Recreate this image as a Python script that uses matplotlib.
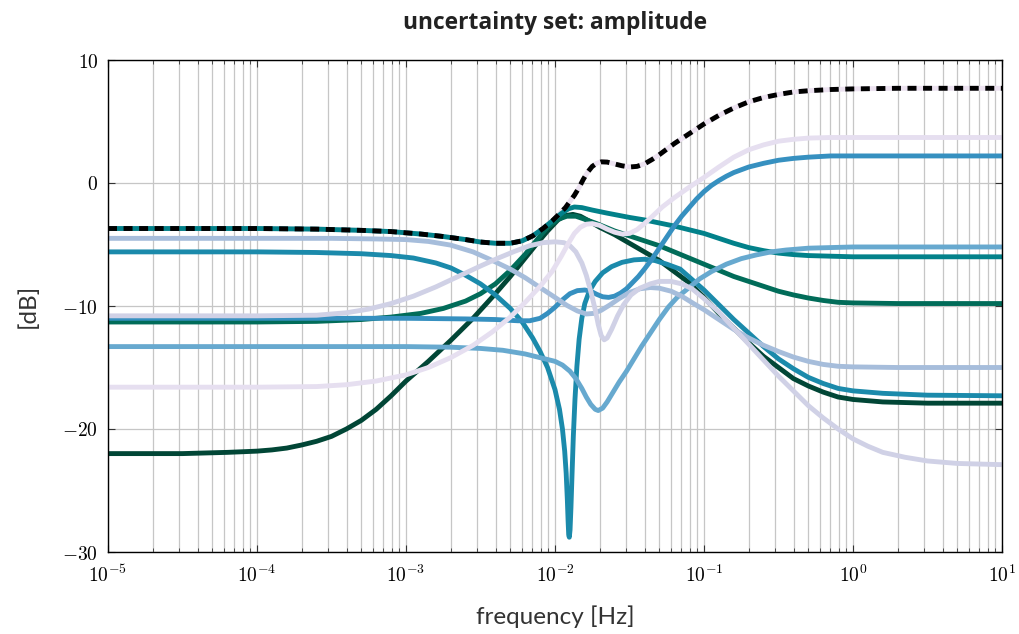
import matplotlib
matplotlib.use("Agg")
import matplotlib.pyplot as plt
from matplotlib.ticker import FixedLocator, NullFormatter, FuncFormatter
import numpy as np

plt.rcParams["mathtext.fontset"] = "cm"

# ---- data: log10(frequency [Hz]) and amplitude [dB] for each member of the set ----
lf_dark = [-5, -4.5, -4.2, -4.0, -3.9, -3.8, -3.7, -3.6, -3.5, -3.4, -3.3, -3.2, -3.1, -3.0, -2.85,
           -2.7, -2.55, -2.4, -2.3, -2.2, -2.12, -2.05, -1.98, -1.93, -1.88, -1.83, -1.77, -1.7,
           -1.6, -1.5, -1.4, -1.3, -1.2, -1.1, -1.0, -0.9, -0.8, -0.7, -0.6, -0.5, -0.4, -0.3,
           -0.2, -0.1, 0, 0.2, 0.5, 1]
db_dark = [-22.0, -22.0, -21.9, -21.8, -21.7, -21.55, -21.3, -21.0, -20.6, -20.0, -19.3, -18.4,
           -17.3, -16.1, -14.5, -12.8, -11.0, -9.0, -7.6, -6.1, -4.9, -3.9, -3.0, -2.65, -2.55,
           -2.7, -3.1, -3.6, -4.2, -4.9, -5.6, -6.3, -7.2, -8.1, -9.3, -10.6, -11.8, -13.0, -14.1,
           -15.0, -15.9, -16.5, -17.0, -17.4, -17.6, -17.8, -17.9, -17.9]

lf_green = [-5, -4, -3.6, -3.3, -3.1, -2.9, -2.75, -2.6, -2.5, -2.4, -2.3, -2.2, -2.12, -2.05,
            -1.98, -1.92, -1.86, -1.8, -1.72, -1.6, -1.5, -1.4, -1.3, -1.2, -1.1, -1.0, -0.9, -0.8,
            -0.7, -0.6, -0.5, -0.4, -0.3, -0.2, -0.1, 0, 0.3, 1]
db_green = [-11.3, -11.3, -11.25, -11.1, -10.9, -10.6, -10.2, -9.6, -9.0, -8.2, -7.1, -5.8, -4.6,
            -3.6, -2.95, -2.7, -2.7, -2.95, -3.3, -3.9, -4.3, -4.7, -5.1, -5.6, -6.1, -6.6, -7.1,
            -7.6, -8.0, -8.4, -8.8, -9.1, -9.35, -9.55, -9.7, -9.75, -9.8, -9.8]

lf_teal = [-5, -4, -3.6, -3.3, -3.1, -2.9, -2.75, -2.6, -2.5, -2.4, -2.3, -2.22, -2.15, -2.08,
           -2.02, -1.96, -1.91, -1.87, -1.82, -1.75, -1.65, -1.5, -1.4, -1.3, -1.2, -1.1, -1.0,
           -0.9, -0.8, -0.7, -0.6, -0.5, -0.4, -0.3, -0.15, 0, 1]
db_teal = [-3.7, -3.7, -3.75, -3.85, -3.95, -4.15, -4.35, -4.6, -4.8, -4.9, -4.9, -4.7, -4.3, -3.7,
           -3.1, -2.5, -2.1, -1.95, -2.0, -2.2, -2.45, -2.8, -3.0, -3.25, -3.5, -3.8, -4.1, -4.5,
           -4.9, -5.25, -5.5, -5.7, -5.82, -5.9, -5.95, -6.0, -6.0]

lf_notch = [-5, -4, -3.6, -3.3, -3.1, -2.95, -2.8, -2.7, -2.6, -2.5, -2.4, -2.3, -2.22, -2.15,
            -2.1, -2.05, -2.0, -1.97, -1.95, -1.935, -1.925, -1.917, -1.912, -1.908, -1.904,
            -1.899, -1.893, -1.886, -1.877, -1.866, -1.853, -1.838, -1.82, -1.8, -1.77, -1.73,
            -1.68, -1.62, -1.55, -1.47, -1.4, -1.33, -1.25, -1.16, -1.0, -0.9, -0.8, -0.7, -0.6,
            -0.5, -0.4, -0.3, -0.2, -0.1, 0, 0.2, 0.5, 1]
db_notch = [-5.6, -5.6, -5.65, -5.75, -5.9, -6.1, -6.5, -6.9, -7.5, -8.2, -9.1, -10.2, -11.3,
            -12.6, -13.7, -15.0, -16.8, -18.4, -20.0, -21.8, -23.6, -25.8, -27.5, -28.6, -28.8,
            -28.2, -26.4, -23.8, -20.6, -17.6, -14.9, -12.7, -11.0, -9.8, -8.8, -8.0, -7.3, -6.8,
            -6.45, -6.25, -6.2, -6.3, -6.6, -7.0, -8.7, -9.9, -11.1, -12.2, -13.3, -14.3, -15.1,
            -15.8, -16.3, -16.7, -16.9, -17.1, -17.25, -17.3]

lf_blue = [-5, -3, -2.6, -2.4, -2.25, -2.17, -2.1, -2.05, -2.0, -1.95, -1.9, -1.85, -1.8, -1.76,
           -1.72, -1.68, -1.64, -1.6, -1.56, -1.52, -1.48, -1.44, -1.4, -1.35, -1.3, -1.25, -1.2,
           -1.15, -1.1, -1.05, -1.0, -0.95, -0.9, -0.85, -0.8, -0.7, -0.6, -0.5, -0.4, -0.3,
           -0.15, 0, 1]
db_blue = [-11.0, -11.0, -11.05, -11.1, -11.2, -11.2, -11.0, -10.6, -10.1, -9.5, -9.0, -8.75, -8.7,
           -8.8, -9.05, -9.25, -9.3, -9.2, -8.95, -8.6, -8.1, -7.6, -7.0, -6.2, -5.3, -4.4, -3.5,
           -2.7, -2.0, -1.3, -0.7, -0.2, 0.2, 0.55, 0.85, 1.3, 1.6, 1.85, 2.0, 2.1, 2.2, 2.2, 2.2]

lf_light = [-5, -3, -2.7, -2.5, -2.35, -2.2, -2.1, -2.0, -1.95, -1.9, -1.86, -1.82, -1.79, -1.76,
            -1.73, -1.71, -1.68, -1.65, -1.61, -1.57, -1.52, -1.47, -1.42, -1.36, -1.3, -1.24,
            -1.18, -1.1, -1.03, -0.95, -0.85, -0.75, -0.65, -0.55, -0.45, -0.3, -0.15, 0, 1]
db_light = [-13.3, -13.3, -13.35, -13.45, -13.6, -13.9, -14.2, -14.5, -14.8, -15.3, -15.9, -16.7,
            -17.4, -18.0, -18.4, -18.5, -18.3, -17.8, -17.0, -16.2, -15.3, -14.3, -13.3, -12.2,
            -11.1, -10.1, -9.3, -8.5, -7.8, -7.2, -6.6, -6.15, -5.85, -5.6, -5.45, -5.3, -5.25,
            -5.2, -5.2]

lf_pale = [-5, -3.5, -3.2, -3.0, -2.85, -2.7, -2.55, -2.42, -2.3, -2.2, -2.1, -2.0, -1.92, -1.85,
           -1.79, -1.74, -1.69, -1.63, -1.57, -1.5, -1.43, -1.36, -1.3, -1.22, -1.15, -1.07, -1.0,
           -0.9, -0.8, -0.7, -0.6, -0.5, -0.4, -0.3, -0.2, -0.1, 0, 0.3, 1]
db_pale = [-4.5, -4.5, -4.55, -4.6, -4.75, -5.05, -5.6, -6.3, -7.0, -7.7, -8.5, -9.3, -9.95, -10.4,
           -10.65, -10.6, -10.35, -9.9, -9.4, -8.9, -8.6, -8.5, -8.55, -8.8, -9.2, -9.8, -10.3,
           -11.1, -11.9, -12.6, -13.2, -13.7, -14.15, -14.5, -14.75, -14.9, -14.95, -15.0, -15.0]

lf_lav = [-5, -4, -3.6, -3.4, -3.25, -3.1, -2.95, -2.8, -2.65, -2.5, -2.38, -2.27, -2.17, -2.08,
          -2.0, -1.94, -1.9, -1.86, -1.82, -1.79, -1.76, -1.73, -1.71, -1.69, -1.67, -1.65, -1.62,
          -1.58, -1.54, -1.49, -1.43, -1.36, -1.3, -1.22, -1.15, -1.08, -1.0, -0.9, -0.8, -0.7,
          -0.6, -0.5, -0.4, -0.3, -0.2, -0.1, 0, 0.1, 0.2, 0.35, 0.5, 0.7, 1]
db_lav = [-10.8, -10.8, -10.75, -10.55, -10.25, -9.8, -9.2, -8.45, -7.6, -6.75, -6.1, -5.55, -5.1,
          -4.85, -4.78, -4.85, -5.1, -5.6, -6.5, -7.5, -8.8, -10.3, -11.5, -12.4, -12.75, -12.6,
          -11.9, -10.8, -9.9, -9.1, -8.55, -8.2, -8.0, -8.0, -8.2, -8.6, -9.4, -10.5, -11.8, -13.1,
          -14.4, -15.7, -16.9, -18.1, -19.1, -20.0, -20.8, -21.4, -21.9, -22.3, -22.6, -22.8, -22.9]

lf_lilac = [-5, -4, -3.6, -3.4, -3.2, -3.0, -2.85, -2.7, -2.55, -2.42, -2.3, -2.2, -2.1, -2.02,
            -1.96, -1.91, -1.87, -1.83, -1.79, -1.75, -1.7, -1.65, -1.6, -1.55, -1.5, -1.45, -1.4,
            -1.35, -1.28, -1.2, -1.1, -1.0, -0.9, -0.8, -0.7, -0.6, -0.5, -0.4, -0.3, -0.15, 0, 1]
db_lilac = [-16.6, -16.6, -16.55, -16.4, -16.1, -15.6, -15.0, -14.2, -13.2, -12.1, -10.9, -9.7,
            -8.4, -7.2, -6.0, -4.9, -4.1, -3.6, -3.35, -3.3, -3.45, -3.75, -4.0, -4.15, -4.1, -3.8,
            -3.3, -2.75, -1.95, -1.2, -0.35, 0.45, 1.3, 2.1, 2.7, 3.1, 3.4, 3.55, 3.65, 3.7, 3.7,
            3.7]

# upper bound of the set
lf_bound = [-5, -4, -3.6, -3.3, -3.1, -2.9, -2.75, -2.6, -2.5, -2.4, -2.3, -2.22, -2.15, -2.08,
            -2.02, -1.97, -1.93, -1.9, -1.87, -1.84, -1.81, -1.78, -1.75, -1.72, -1.69, -1.65,
            -1.6, -1.55, -1.5, -1.45, -1.4, -1.35, -1.3, -1.2, -1.1, -1.0, -0.9, -0.8, -0.7, -0.6,
            -0.5, -0.4, -0.3, -0.15, 0, 0.3, 1]
db_bound = [-3.7, -3.7, -3.75, -3.85, -3.95, -4.15, -4.35, -4.6, -4.8, -4.9, -4.9, -4.7, -4.3,
            -3.7, -3.1, -2.5, -2.0, -1.5, -1.0, -0.4, 0.3, 0.9, 1.35, 1.6, 1.72, 1.7, 1.55, 1.4,
            1.3, 1.35, 1.55, 1.9, 2.3, 3.2, 4.0, 4.8, 5.5, 6.1, 6.6, 6.95, 7.2, 7.4, 7.5, 7.6,
            7.65, 7.7, 7.7]

members = [
    (lf_dark, db_dark, "#014636"),
    (lf_green, db_green, "#016c59"),
    (lf_teal, db_teal, "#02818a"),
    (lf_notch, db_notch, "#1b8aab"),
    (lf_blue, db_blue, "#3690c0"),
    (lf_light, db_light, "#67a9cf"),
    (lf_pale, db_pale, "#a6bddb"),
    (lf_lav, db_lav, "#d0d1e6"),
    (lf_lilac, db_lilac, "#e6dff0"),
]

LW = 3.5

fig = plt.figure(figsize=(10.19, 6.34), dpi=100)
ax = fig.add_axes([108 / 1019, 1 - 552 / 634, (1002 - 108) / 1019, (552 - 60) / 634])

ax.set_xscale("log")
ax.set_xlim(1e-5, 1e1)
ax.set_ylim(-30, 10)

f_bound = np.power(10.0, lf_bound)
ax.plot(f_bound, db_bound, color="#ece2f0", lw=LW, solid_capstyle="butt",
        solid_joinstyle="round", zorder=1.5)

for lf, db, col in members:
    ax.plot(np.power(10.0, lf), db, color=col, lw=LW, solid_capstyle="butt",
            solid_joinstyle="round", zorder=2)

ax.plot(f_bound, db_bound, color="black", lw=LW, dashes=(1.85, 1.35), dash_capstyle="butt",
        dash_joinstyle="round", zorder=3)

# ticks and grid
major_x = [1e-5, 1e-4, 1e-3, 1e-2, 1e-1, 1e0, 1e1]
minor_x = [m * 10.0 ** e for e in range(-5, 1) for m in range(2, 10)]
ax.xaxis.set_major_locator(FixedLocator(major_x))
ax.xaxis.set_minor_locator(FixedLocator(minor_x))
ax.xaxis.set_minor_formatter(NullFormatter())
ax.yaxis.set_major_locator(FixedLocator([-30, -20, -10, 0, 10]))
ax.grid(True, which="major", color="#c6c6c6", lw=0.9, zorder=0)
ax.grid(True, which="minor", axis="x", color="#c6c6c6", lw=0.9, zorder=0)
ax.set_axisbelow(True)

ax.xaxis.set_major_formatter(FuncFormatter(lambda v, p: r"$10^{%d}$" % int(round(np.log10(v)))))
ax.yaxis.set_major_formatter(FuncFormatter(lambda v, p: r"$%d$" % v if v >= 0 else r"$-%d$" % -v))
ax.tick_params(axis="both", which="major", direction="in", length=5, width=0.8, labelsize=14,
               color="#333333")
ax.tick_params(axis="x", which="major", pad=9)
ax.tick_params(axis="y", which="major", pad=7)
ax.tick_params(axis="x", which="minor", direction="in", length=3, width=0.6, color="#333333")
ax.tick_params(top=True, right=True, which="both")
for s in ax.spines.values():
    s.set_linewidth(1.0)
    s.set_color("black")

ax.set_xlabel("frequency [Hz]", family="Lato", fontsize=17.5, color="#333333", labelpad=14)
ax.set_ylabel("[dB]", family="Lato", fontsize=17.5, color="#333333", labelpad=17)
ax.set_title("uncertainty set: amplitude", family="Open Sans", fontweight="bold", fontsize=16.4,
             color="#222222", pad=22)

fig.savefig("out.png", dpi=100)
